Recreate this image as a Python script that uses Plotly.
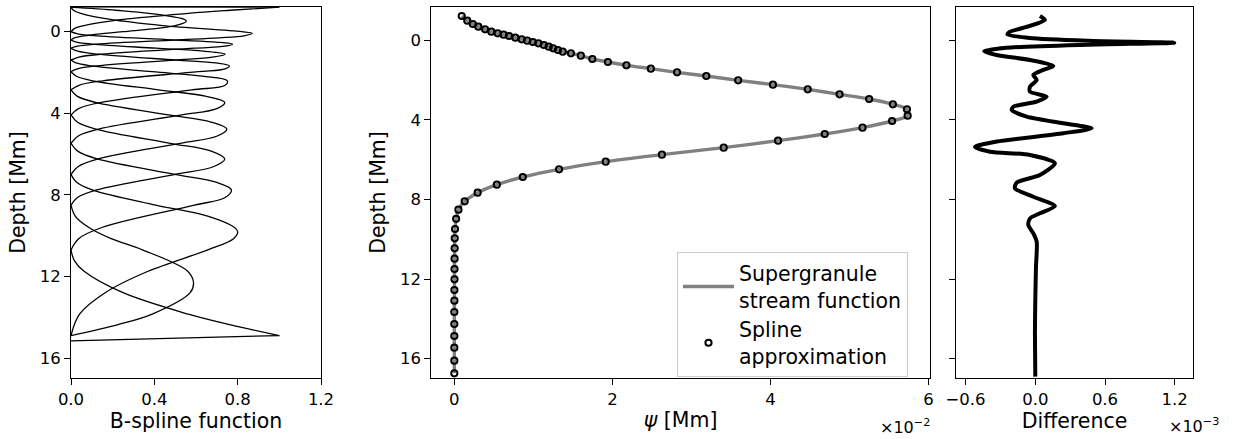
import plotly.graph_objects as go

# ---------------- Left panel: B-spline basis functions (value vs depth [Mm]) ----------------
b00_depth = [-1.2, -1.05, -0.9, -0.6, -0.3, -0.15, 0.0]
b00_value = [1.0, 0.766, 0.563, 0.25, 0.063, 0.016, 0.0]
b01_depth = [-1.2, -1.05, -0.9, -0.6, -0.51, -0.3, 0.0, 0.1025, 0.205, 0.3075, 0.41]
b01_value = [0.0, 0.215, 0.375, 0.545, 0.553, 0.500, 0.250, 0.140, 0.062, 0.016, 0.0]
b02_depth = [-1.2, -1.05, -0.9, -0.6, -0.3, 0.0, 0.08, 0.2, 0.3, 0.41, 0.61, 0.71, 0.81]
b02_value = [0.0, 0.012, 0.047, 0.190, 0.440, 0.820, 0.870, 0.830, 0.711, 0.494, 0.123, 0.031, 0.0]
b03_depth = [0.0, 0.1025, 0.205, 0.41, 0.51, 0.61, 0.71, 0.81, 1.10, 1.245, 1.39]
b03_value = [0.0, 0.032, 0.127, 0.506, 0.696, 0.775, 0.739, 0.592, 0.148, 0.037, 0.0]
b04_depth = [0.41, 0.51, 0.61, 0.81, 0.955, 1.10, 1.245, 1.39, 1.675, 1.8175, 1.96]
b04_value = [0.0, 0.026, 0.102, 0.408, 0.635, 0.740, 0.679, 0.496, 0.124, 0.031, 0.0]
b05_depth = [0.81, 0.955, 1.10, 1.39, 1.5325, 1.675, 1.8175, 1.96, 2.405, 2.6275, 2.85]
b05_value = [0.0, 0.032, 0.126, 0.504, 0.697, 0.760, 0.740, 0.610, 0.153, 0.038, 0.0]
b06_depth = [1.39, 1.5325, 1.675, 1.96, 2.1825, 2.405, 2.6275, 2.85, 3.465, 3.7725, 4.08]
b06_value = [0.0, 0.024, 0.098, 0.390, 0.631, 0.750, 0.740, 0.580, 0.145, 0.036, 0.0]
b07_depth = [1.96, 2.1825, 2.405, 2.85, 3.1575, 3.465, 3.7725, 4.08, 4.775, 5.1225, 5.47]
b07_value = [0.0, 0.026, 0.105, 0.420, 0.645, 0.738, 0.700, 0.531, 0.133, 0.033, 0.0]
b08_depth = [2.85, 3.1575, 3.465, 4.08, 4.4275, 4.775, 5.1225, 5.47, 6.235, 6.6175, 7.0]
b08_value = [0.0, 0.029, 0.117, 0.469, 0.672, 0.748, 0.699, 0.524, 0.131, 0.033, 0.0]
b09_depth = [4.08, 4.4275, 4.775, 5.47, 5.8525, 6.235, 6.6175, 7.0, 7.75, 8.125, 8.5]
b09_value = [0.0, 0.030, 0.119, 0.476, 0.673, 0.738, 0.683, 0.495, 0.124, 0.031, 0.0]
b10_depth = [5.47, 5.8525, 6.235, 7.0, 7.375, 7.75, 8.125, 8.5, 9.595, 10.1425, 10.69]
b10_value = [0.0, 0.032, 0.126, 0.505, 0.696, 0.770, 0.740, 0.593, 0.148, 0.037, 0.0]
b11_depth = [7.0, 7.375, 7.75, 8.5, 9.0475, 9.595, 9.80, 10.1425, 10.69, 11.74, 12.79, 13.84, 14.89]
b11_value = [0.0, 0.027, 0.102, 0.407, 0.660, 0.785, 0.800, 0.780, 0.657, 0.370, 0.164, 0.041, 0.0]
b12_depth = [8.5, 9.0475, 9.595, 10.1425, 10.69, 11.74, 12.29, 12.79, 13.84, 14.365, 14.89]
b12_value = [0.0, 0.021, 0.086, 0.193, 0.343, 0.560, 0.588, 0.572, 0.390, 0.222, 0.0]
b13_depth = [10.69, 11.215, 11.74, 12.79, 13.84, 14.365, 14.89]
b13_value = [0.0, 0.016, 0.063, 0.25, 0.563, 0.766, 1.0]
# samples just outside the knot range (drawn as straight segments)
top_tail_depth = [-1.215, -1.2]
top_tail_value = [0.0, 1.0]
bottom_tail_depth = [14.89, 15.15]
bottom_tail_value = [1.0, 0.0]

# ---------------- Middle panel: stream function psi (x 1e-2 Mm) vs depth [Mm] ----------------
psi_depth = [-1.221, -0.987, -0.819, -0.685, -0.551, -0.434, -0.350, -0.283, -0.216, -0.132,
             -0.049, 0.018, 0.085, 0.152, 0.236, 0.320, 0.404, 0.487, 0.571, 0.655,
             0.772, 0.940, 1.090, 1.258, 1.426, 1.610, 1.794, 2.012, 2.229, 2.464,
             2.715, 2.950, 3.218, 3.469, 3.787, 4.055, 4.390, 4.709, 5.044, 5.395,
             5.747, 6.099, 6.484, 6.869, 7.255, 7.657, 8.092, 8.510, 8.970, 9.482,
             9.951, 10.454, 10.973, 11.492, 12.012, 12.548, 13.084, 13.653, 14.256, 14.859,
             15.446, 16.099, 16.735]
psi_value = [0.094, 0.164, 0.234, 0.304, 0.389, 0.468, 0.548, 0.623, 0.693, 0.772,
             0.852, 0.922, 0.993, 1.063, 1.133, 1.194, 1.250, 1.311, 1.372, 1.475,
             1.601, 1.746, 1.943, 2.177, 2.486, 2.818, 3.188, 3.591, 4.031, 4.471,
             4.874, 5.248, 5.548, 5.726, 5.735, 5.538, 5.164, 4.686, 4.096, 3.408,
             2.626, 1.915, 1.325, 0.866, 0.538, 0.295, 0.131, 0.052, 0.023, 0.009,
             0.005, 0.004, 0.003, 0.002, 0.002, 0.001, 0.001, 0.0, 0.0, 0.0,
             0.0, 0.0, 0.0]

# ---------------- Right panel: difference (x 1e-3) vs depth [Mm] ----------------
diff_depth = [-1.22, -1.02, -0.72, -0.43, -0.30, -0.12, 0.02, 0.12, 0.22, 0.38,
              0.55, 0.74, 0.99, 1.29, 1.49, 1.74, 2.00, 2.33, 2.58, 2.83,
              3.08, 3.34, 3.50, 3.84, 4.17, 4.42, 4.67, 5.09, 5.35, 5.60,
              5.76, 6.18, 6.77, 7.15, 7.44, 7.86, 8.33, 8.69, 8.95, 9.28,
              9.70, 10.12, 11.38, 13.05, 14.72, 16.90]
diff_value = [0.040, 0.083, -0.046, -0.218, -0.240, -0.050, 0.450, 1.196, 0.450, -0.250,
              -0.440, -0.332, -0.046, 0.155, 0.069, -0.017, 0.012, -0.046, -0.046, 0.098,
              0.012, -0.189, -0.203, -0.074, 0.241, 0.485, 0.241, -0.332, -0.519, -0.390,
              -0.046, 0.169, 0.040, -0.160, -0.175, -0.017, 0.169, 0.040, -0.046, -0.060,
              -0.017, 0.012, 0.006, 0.0, -0.003, 0.0]

# ---------------- tick definitions ----------------
depth_ticks = [0, 4, 8, 12, 16]
bspline_ticks = [0.0, 0.4, 0.8, 1.2]
psi_ticks = [0, 2, 4, 6]
diff_ticks = [-0.6, 0.0, 0.6, 1.2]

FONT = "DejaVu Sans"
W, H = 1236, 439

fig = go.Figure()

basis = [(b00_depth, b00_value), (b01_depth, b01_value), (b02_depth, b02_value),
         (b03_depth, b03_value), (b04_depth, b04_value), (b05_depth, b05_value),
         (b06_depth, b06_value), (b07_depth, b07_value), (b08_depth, b08_value),
         (b09_depth, b09_value), (b10_depth, b10_value), (b11_depth, b11_value),
         (b12_depth, b12_value), (b13_depth, b13_value)]
for d, v in basis:
    fig.add_trace(go.Scatter(x=v, y=d, mode="lines", xaxis="x", yaxis="y",
                             line=dict(color="black", width=1.3, shape="spline", smoothing=1.0),
                             showlegend=False, hoverinfo="skip"))
for d, v in [(top_tail_depth, top_tail_value), (bottom_tail_depth, bottom_tail_value)]:
    fig.add_trace(go.Scatter(x=v, y=d, mode="lines", xaxis="x", yaxis="y",
                             line=dict(color="black", width=1.3),
                             showlegend=False, hoverinfo="skip"))

fig.add_trace(go.Scatter(x=psi_value, y=psi_depth, mode="lines", xaxis="x2", yaxis="y2",
                         name="Supergranule<br>stream function",
                         line=dict(color="#808080", width=3.4, shape="spline", smoothing=0.8)))
fig.add_trace(go.Scatter(x=psi_value, y=psi_depth, mode="markers", xaxis="x2", yaxis="y2",
                         name="Spline<br>approximation",
                         marker=dict(symbol="circle", size=6.2, color="rgba(0,0,0,0)",
                                     line=dict(color="black", width=2))))

fig.add_trace(go.Scatter(x=diff_value, y=diff_depth, mode="lines", xaxis="x3", yaxis="y3",
                         line=dict(color="black", width=4, shape="spline", smoothing=0.7),
                         showlegend=False, hoverinfo="skip"))

tickfont = dict(family=FONT, size=16.5, color="black")
titlefont = dict(family=FONT, size=20.5, color="black")
common = dict(showline=True, linecolor="black", linewidth=1.1, mirror=True,
              ticks="outside", ticklen=6, tickwidth=1.1, tickcolor="black",
              showgrid=False, zeroline=False, tickfont=tickfont, automargin=False)

ydom = [(H - 378) / H, (H - 7) / H]

fig.update_layout(
    width=W, height=H,
    margin=dict(l=0, r=0, t=0, b=0, autoexpand=False),
    paper_bgcolor="white", plot_bgcolor="white",
    font=dict(family=FONT, color="black"),
    xaxis=dict(domain=[71 / W, 321 / W], range=[0, 1.2], tickvals=bspline_ticks,
               tickformat=".1f", anchor="y",
               title=dict(text="B-spline function", font=titlefont, standoff=4), **common),
    yaxis=dict(domain=ydom, range=[16.97, -1.21], tickvals=depth_ticks, anchor="x",
               title=dict(text="Depth [Mm]", font=titlefont, standoff=8), **common),
    xaxis2=dict(domain=[431.4 / W, 929.7 / W], range=[-0.29, 6.014], tickvals=psi_ticks,
                anchor="y2",
                title=dict(text="<i>ψ</i> [Mm]", font=titlefont, standoff=4), **common),
    yaxis2=dict(domain=ydom, range=[16.97, -1.673], tickvals=depth_ticks, anchor="x2",
                title=dict(text="Depth [Mm]", font=titlefont, standoff=8), **common),
    xaxis3=dict(domain=[955.7 / W, 1193.3 / W], range=[-0.685, 1.36], tickvals=diff_ticks,
                tickformat=".1f", anchor="y3",
                title=dict(text="Difference", font=titlefont, standoff=4), **common),
    yaxis3=dict(domain=ydom, matches="y2", range=[16.97, -1.673], tickvals=depth_ticks,
                anchor="x3", showticklabels=False, **common),
    legend=dict(x=677 / W, y=(H - 252.3) / H, xanchor="left", yanchor="top",
                bgcolor="rgba(255,255,255,0.8)", bordercolor="#cccccc", borderwidth=1,
                font=dict(family=FONT, size=20.5, color="black"), itemwidth=51,
                valign="middle"),
    annotations=[
        dict(text="×10<sup>−2</sup>", x=931.5 / W, y=(H - 426.7) / H, xref="paper", yref="paper",
             xanchor="right", yanchor="middle", showarrow=False,
             font=dict(family=FONT, size=16, color="black")),
        dict(text="×10<sup>−3</sup>", x=1221 / W, y=(H - 425) / H, xref="paper", yref="paper",
             xanchor="right", yanchor="middle", showarrow=False,
             font=dict(family=FONT, size=16, color="black")),
    ],
)

fig.write_html("out.html")
